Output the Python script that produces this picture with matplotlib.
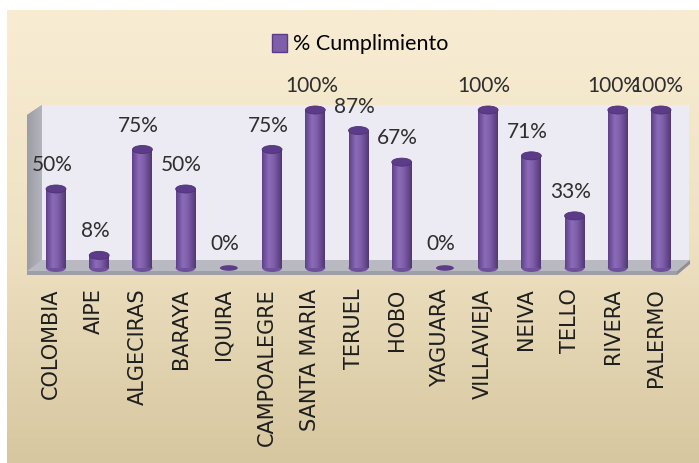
import matplotlib
matplotlib.use("Agg")
import matplotlib.pyplot as plt
import numpy as np
from matplotlib.patches import Polygon, Ellipse, Rectangle
from matplotlib.colors import LinearSegmentedColormap
from matplotlib.transforms import ScaledTranslation

# ---- data ----
categories = ["COLOMBIA", "AIPE", "ALGECIRAS", "BARAYA", "IQUIRA", "CAMPOALEGRE",
              "SANTA MARIA", "TERUEL", "HOBO", "YAGUARA", "VILLAVIEJA", "NEIVA",
              "TELLO", "RIVERA", "PALERMO"]
values = [50, 8, 75, 50, 0, 75, 100, 87, 67, 0, 100, 71, 33, 100, 100]
series_name = "% Cumplimiento"

W, H = 699, 463
fig = plt.figure(figsize=(W / 100, H / 100), dpi=100, facecolor="white")

# ---- background (pixel coordinates) ----
bg = fig.add_axes([0, 0, 1, 1])
bg.set_xlim(0, W)
bg.set_ylim(H, 0)
bg.axis("off")
grad = np.linspace(0, 1, 256).reshape(-1, 1)
bg_cmap = LinearSegmentedColormap.from_list("bg", ["#F8ECD3", "#EFE2C3", "#D7C7A0"])
bg.imshow(grad, cmap=bg_cmap, extent=(7, W, H, 10), aspect="auto", zorder=0)

# back wall
bg.add_patch(Rectangle((42, 105), 647, 155, facecolor="#ECEAF2", edgecolor="none", zorder=1))
# left wall
lw_cmap = LinearSegmentedColormap.from_list("lw", ["#9C9CA4", "#B4B4BC"])
lw = Polygon([(27, 115), (42, 105), (42, 260), (27, 272)], closed=True,
             facecolor="#A8A8B0", edgecolor="none", zorder=1)
bg.add_patch(lw)
im = bg.imshow(np.linspace(0, 1, 64).reshape(1, -1), cmap=lw_cmap,
               extent=(27, 42, 272, 105), aspect="auto", zorder=1)
im.set_clip_path(lw)
# floor top
bg.add_patch(Polygon([(42, 260), (690, 260), (677, 271), (27, 271)], closed=True,
                     facecolor="#B9B9C1", edgecolor="none", zorder=1))
# floor front
bg.add_patch(Polygon([(27, 271), (677, 271), (677, 275), (27, 275)], closed=True,
                     facecolor="#9E9EA6", edgecolor="none", zorder=1))
bg.add_patch(Polygon([(677, 271), (690, 260), (690, 264), (677, 275)], closed=True,
                     facecolor="#8E8E96", edgecolor="none", zorder=1))

# ---- main axes ----
L, R, T, B = 27, 692, 100, 276
ax = fig.add_axes([L / W, 1 - B / H, (R - L) / W, (B - T) / H])
ax.patch.set_visible(False)
px_x = (661 - 56) / 14.0
px_y = (268 - 110) / 100.0
ax.set_xlim((L - 56) / px_x, 14 + (R - 661) / px_x)
ax.set_ylim(-(B - 268) / px_y, (268 - T) / px_y)
for s in ax.spines.values():
    s.set_visible(False)
ax.set_yticks([])

x = np.arange(len(categories))
bw = 0.46
bars = ax.bar(x, values, width=bw, color="#7E5EA9", zorder=3)

body_cmap = LinearSegmentedColormap.from_list(
    "body", [(0, "#5F418A"), (0.35, "#8C6CB9"), (0.6, "#7E5EA9"), (1, "#533777")])
eh = 8 / px_y
for rect, v in zip(bars, values):
    x0, w, h = rect.get_x(), rect.get_width(), rect.get_height()
    cx = x0 + w / 2
    if h > 0:
        g = ax.imshow(np.linspace(0, 1, 64).reshape(1, -1), cmap=body_cmap,
                      extent=(x0, x0 + w, 0, h), aspect="auto", zorder=3)
        g.set_clip_path(rect)
        ax.add_patch(Ellipse((cx, 0), w, eh, facecolor="#6F519B", edgecolor="none", zorder=2.9))
        ax.add_patch(Ellipse((cx, h), w, eh, facecolor="#5C3C88", edgecolor="#4E3275",
                             linewidth=0.6, zorder=4))
    else:
        ax.add_patch(Ellipse((cx, 0), w * 0.9, eh * 0.7, facecolor="#5C3C88",
                             edgecolor="none", zorder=4))
    ax.annotate(f"{v}%", (cx, h), xytext=(-4, 24), textcoords="offset pixels",
                ha="center", va="center", fontsize=15, family="Lato",
                color="#2E2E2E", zorder=5, annotation_clip=False)

ax.set_xticks(x)
ax.set_xticklabels(categories, rotation=90, fontsize=15, family="DejaVu Sans",
                   color="#1E1E1E", va="top", ha="center")
ax.tick_params(axis="x", length=0, pad=9)
off = ScaledTranslation(-5 / 100, 0, fig.dpi_scale_trans)
for lab in ax.get_xticklabels():
    lab.set_transform(lab.get_transform() + off)

# ---- legend ----
handle = Rectangle((0, 0), 1, 1, facecolor="#7E5EA9", edgecolor="#5A3C86", linewidth=1)
fig.legend([handle], [series_name], loc="center", bbox_to_anchor=(360 / W, 1 - 44 / H),
           frameon=False, prop={"family": "Lato", "size": 15.5},
           handlelength=0.7, handleheight=0.9, handletextpad=0.25, borderpad=0)

fig.savefig("out.png", dpi=100, facecolor="white")
